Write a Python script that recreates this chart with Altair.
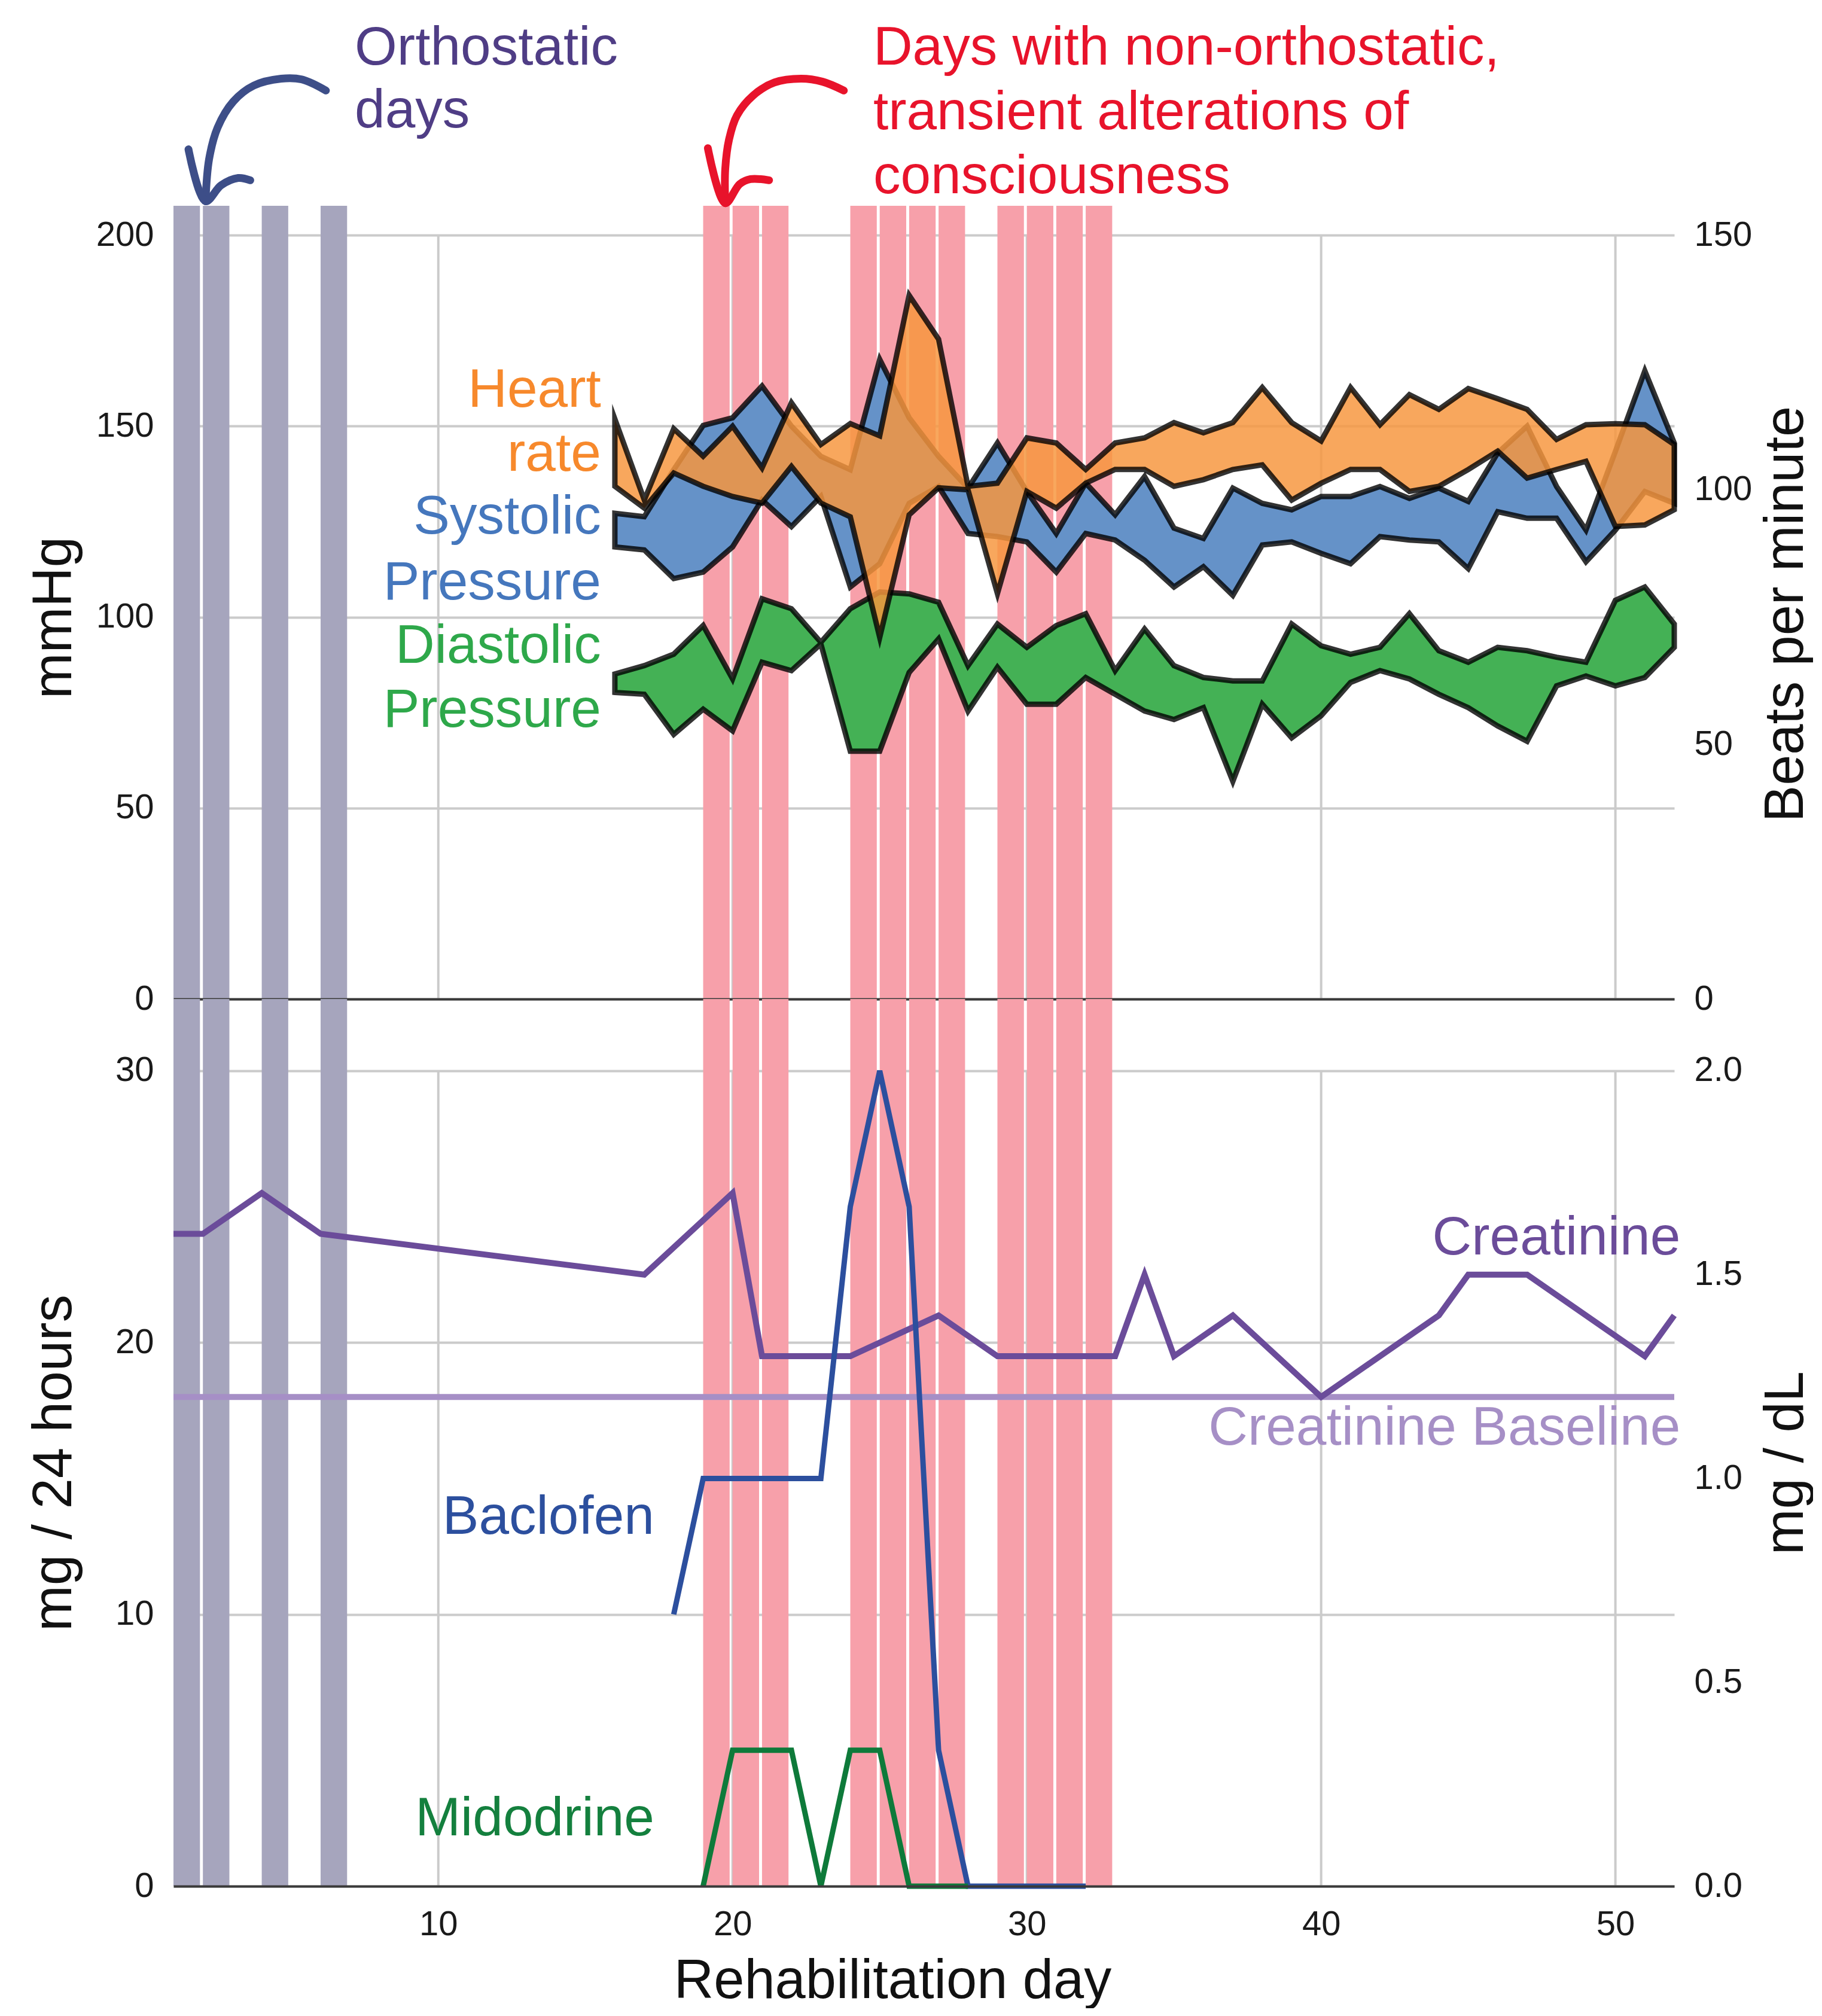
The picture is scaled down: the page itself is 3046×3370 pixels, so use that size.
import altair as alt
import pandas as pd

FONT = "Liberation Sans"

# ---------------- data ----------------
bp_days = list(range(16, 53))
# heart rate, beats per minute (right axis)
hr_max = [113.9, 98.0, 112.0, 106.6, 112.5, 104.3, 117.1, 108.9, 113.0, 110.6, 138.2, 129.6, 100.7,
          101.3, 110.2, 109.2, 104.0, 109.2, 110.2, 113.2, 111.2, 113.2, 120.1, 113.2, 109.6, 120.1,
          112.8, 118.7, 115.8, 119.9, 117.9, 115.8, 109.9, 112.8, 113.0, 112.8, 108.9]
hr_min = [100.7, 96.4, 103.3, 100.7, 98.7, 97.4, 104.6, 97.4, 94.7, 71.0, 95.1, 100.4, 100.0,
          79.6, 99.7, 96.4, 101.3, 104.0, 104.0, 100.7, 102.0, 104.0, 104.9, 98.0, 101.3, 104.0,
          104.0, 99.7, 100.7, 104.0, 107.6, 102.3, 104.0, 105.6, 92.8, 93.1, 96.1]
# systolic pressure, mmHg
sbp_max = [127.2, 126.3, 138.6, 150.2, 152.2, 160.5, 150.0, 142.1, 138.6, 167.5, 152.2, 142.1, 133.8,
           145.6, 132.9, 121.9, 135.1, 126.8, 136.8, 123.3, 120.6, 133.8, 129.8, 128.1, 131.6, 131.6,
           134.2, 131.1, 133.8, 130.3, 143.0, 150.0, 134.2, 122.8, 143.4, 164.5, 145.6]
sbp_min = [118.4, 117.6, 110.1, 111.8, 118.4, 130.7, 123.7, 131.6, 107.9, 114.0, 129.8, 134.2, 121.9,
           121.1, 119.7, 111.8, 121.9, 120.2, 114.9, 107.9, 113.2, 105.7, 118.9, 119.7, 116.7, 114.0,
           121.1, 120.2, 119.7, 112.7, 127.6, 125.9, 125.9, 114.5, 122.8, 132.9, 129.8]
# diastolic pressure, mmHg
dbp_max = [85.1, 87.3, 90.3, 97.8, 83.8, 104.8, 102.2, 93.4, 102.2, 106.6, 106.1, 103.9, 87.3,
           98.2, 92.1, 97.8, 100.9, 86.0, 96.9, 87.3, 84.2, 83.3, 83.3, 98.2, 92.5, 90.3,
           92.1, 100.9, 91.2, 88.2, 92.1, 91.2, 89.5, 88.2, 104.4, 107.9, 98.2]
dbp_min = [80.3, 79.8, 69.3, 75.9, 70.2, 88.2, 86.0, 93.0, 64.9, 64.9, 85.5, 94.3, 75.4,
           86.9, 77.2, 77.2, 84.2, 79.8, 75.4, 73.2, 76.3, 57.0, 77.2, 68.4, 74.2, 82.9,
           86.0, 83.8, 79.8, 76.3, 71.5, 67.5, 82.0, 84.6, 82.0, 84.2, 92.1]

creat_days = [1, 2, 4, 6, 17, 20, 21, 24, 27, 29, 33, 34, 35, 37, 40, 44, 45, 47, 51, 52]
creat_mgdl = [1.6, 1.6, 1.7, 1.6, 1.5, 1.7, 1.3, 1.3, 1.4, 1.3, 1.3, 1.5, 1.3, 1.4, 1.2, 1.4, 1.5, 1.5, 1.3, 1.4]
creat_baseline_mgdl = 1.2
baclofen_days = [18, 19, 23, 24, 25, 26, 27, 28, 32]
baclofen_mg = [10, 15, 15, 25, 30, 25, 5, 0, 0]
midodrine_days = [19, 20, 22, 23, 24, 25, 26, 28]
midodrine_mg = [0, 5, 5, 0, 5, 5, 0, 0]

orthostatic_days = [1, 2, 4, 6]
episode_days = [19, 20, 21, 24, 25, 26, 27, 29, 30, 31, 32]

x_ticks = [10, 20, 30, 40, 50]
mmhg_ticks = [0, 50, 100, 150, 200]
bpm_ticks = [0, 50, 100, 150]
mg_ticks = [0, 10, 20, 30]
mgdl_ticks = [0.0, 0.5, 1.0, 1.5, 2.0]

# ---------------- layout / style ----------------
W, H_TOP, H_BOT = 2509, 1647, 1483
TOP_MAX = 258.0          # mmHg at the top edge of the upper panel (room for notes)
BAR_TOP = 207.7          # shaded day bars reach a little above 200 mmHg
BOT_MAX = 32.64          # mg/24h at the top edge of the lower panel
BPM_PER_MMHG = 150 / 200
MGDL_PER_MG = 2.0 / 30

GREY, PINK = "#a6a5bd", "#f7a0aa"
ORANGE, BLUE, GREEN = "#f7963e", "#6592c8", "#44b155"
GRID = "#cbcbcb"
OUTLINE = dict(stroke="#000000", strokeOpacity=0.8, strokeWidth=9, strokeJoin="miter", strokeMiterLimit=6)

xs = alt.Scale(domain=[1, 52], nice=False, zero=False)
ys_top = alt.Scale(domain=[0, TOP_MAX], nice=False, zero=False)
ys_hr = alt.Scale(domain=[0, TOP_MAX * BPM_PER_MMHG], nice=False, zero=False)
ys_bot = alt.Scale(domain=[0, BOT_MAX], nice=False, zero=False)
ys_cr = alt.Scale(domain=[0, BOT_MAX * MGDL_PER_MG], nice=False, zero=False)

x_axis_top = alt.Axis(labels=False, ticks=False, grid=False, domain=True, domainColor="#3a3a3a",
                      domainWidth=4, title=None, zindex=2)
x_axis_bot = alt.Axis(values=x_ticks, ticks=False, grid=False, domain=True, domainColor="#3a3a3a",
                      domainWidth=4, labelFontSize=58, labelFont=FONT, labelColor="#1a1a1a",
                      labelPadding=35, title="Rehabilitation day", titleFontSize=92, titleFont=FONT,
                      titleFontWeight="normal", titleColor="#111111", titleX=1202, titleY=186,
                      titleBaseline="alphabetic", titleAlign="center", zindex=2)


def y_axis(orient, values, title, title_x, title_y, grid, fmt=None):
    kw = dict(orient=orient, values=values, grid=grid, gridColor=GRID, gridWidth=4, domain=False,
              ticks=False, labelFontSize=58, labelFont=FONT, labelColor="#1a1a1a", labelPadding=33,
              title=title, titleFontSize=92, titleFont=FONT, titleFontWeight="normal",
              titleColor="#111111", titleAngle=270, titleX=title_x, titleY=title_y,
              titleBaseline="alphabetic", titleAlign="center")
    if fmt:
        kw["format"] = fmt
    return alt.Axis(**kw)


bp = pd.DataFrame({"day": bp_days, "hr_max": hr_max, "hr_min": hr_min, "sbp_max": sbp_max,
                   "sbp_min": sbp_min, "dbp_max": dbp_max, "dbp_min": dbp_min})
bars_df = pd.DataFrame({"day": orthostatic_days + episode_days,
                        "kind": ["Orthostatic"] * len(orthostatic_days) + ["Episode"] * len(episode_days)})


def vgrid(xaxis, yscale, top):
    return alt.Chart(pd.DataFrame({"day": x_ticks})).transform_calculate(
        y0="0", y1=str(top)).mark_rule(color=GRID, strokeWidth=4).encode(
        x=alt.X("day:Q", scale=xs, axis=xaxis),
        y=alt.Y("y0:Q", scale=yscale, axis=None), y2="y1:Q")


def day_bars(xaxis, yscale, top, yaxis):
    return alt.Chart(bars_df).transform_calculate(
        x0="datum.day + 0.0", x1="datum.day + 0.9", y0="0", y1=str(top)).mark_rect().encode(
        x=alt.X("x0:Q", scale=xs, axis=xaxis), x2="x1:Q",
        y=alt.Y("y0:Q", scale=yscale, axis=yaxis), y2="y1:Q",
        color=alt.Color("kind:N", scale=alt.Scale(domain=["Orthostatic", "Episode"], range=[GREY, PINK]),
                        legend=None))


def band(lo, hi, fill, yscale, yaxis=None, opacity=1.0):
    return alt.Chart(bp).mark_area(fill=fill, fillOpacity=opacity, **OUTLINE).encode(
        x=alt.X("day:Q", scale=xs, axis=x_axis_top),
        y=alt.Y(f"{lo}:Q", scale=yscale, axis=yaxis), y2=f"{hi}:Q")


def texts(df, yscale, xaxis, align):
    return alt.Chart(df).mark_text(align=align, baseline="alphabetic", fontSize=91, font=FONT).encode(
        x=alt.X("day:Q", scale=xs, axis=xaxis), y=alt.Y("y:Q", scale=yscale, axis=None),
        text="text:N", color=alt.Color("color:N", scale=None))


# ---------------- annotations ----------------
series_labels = pd.DataFrame({
    "text": ["Heart", "rate", "Systolic", "Pressure", "Diastolic", "Pressure"],
    "day": [15.53] * 6,
    "y": [155.1, 138.3, 121.9, 104.7, 88.1, 71.2],
    "color": ["#f7892c", "#f7892c", "#4577bd", "#4577bd", "#2ea84a", "#2ea84a"]})
note_labels = pd.DataFrame({
    "text": ["Orthostatic", "days", "Days with non-orthostatic,", "transient alterations of", "consciousness"],
    "day": [7.16, 7.16, 24.78, 24.78, 24.78],
    "y": [244.7, 228.3, 244.7, 227.7, 211.0],
    "color": ["#4f3d85", "#4f3d85", "#e8132b", "#e8132b", "#e8132b"]})

arrow_pts = [
    # (part, day, mmHg)
    ("o_shaft", 6.18, 237.9), ("o_shaft", 5.36, 240.8), ("o_shaft", 4.66, 241.0), ("o_shaft", 3.73, 239.2),
    ("o_shaft", 3.03, 235.0), ("o_shaft", 2.50, 228.2), ("o_shaft", 2.21, 219.9), ("o_shaft", 2.09, 208.9),
    ("o_head", 1.51, 222.5), ("o_head", 2.09, 208.9), ("o_head", 2.62, 213.1), ("o_head", 3.20, 215.0),
    ("o_head", 3.61, 214.4),
    ("r_shaft", 23.78, 237.9), ("r_shaft", 23.06, 240.2), ("r_shaft", 22.33, 241.0), ("r_shaft", 21.42, 240.0),
    ("r_shaft", 20.70, 236.6), ("r_shaft", 20.15, 231.4), ("r_shaft", 19.88, 225.1), ("r_shaft", 19.75, 217.3),
    ("r_shaft", 19.75, 208.4),
    ("r_head", 19.16, 222.8), ("r_head", 19.75, 208.4), ("r_head", 20.24, 213.4), ("r_head", 20.61, 214.7),
    ("r_head", 21.24, 214.4),
]
arrows = pd.DataFrame(arrow_pts, columns=["part", "day", "y"])
arrows["i"] = range(len(arrows))
arrows["color"] = ["#3d4e88" if p.startswith("o") else "#e8132b" for p in arrows["part"]]

arrow_layer = alt.Chart(arrows).mark_line(strokeWidth=13, strokeCap="round", strokeJoin="round",
                                          interpolate="catmull-rom").encode(
    x=alt.X("day:Q", scale=xs, axis=x_axis_top), y=alt.Y("y:Q", scale=ys_top, axis=None),
    detail="part:N", order="i:Q", color=alt.Color("color:N", scale=None))

# ---------------- upper panel ----------------
top = alt.layer(
    vgrid(x_axis_top, ys_top, mmhg_ticks[-1]),
    day_bars(x_axis_top, ys_top, BAR_TOP, y_axis("left", mmhg_ticks, "mmHg", -172, 1009, True)),
    band("dbp_min", "dbp_max", GREEN, ys_top),
    band("sbp_min", "sbp_max", BLUE, ys_top),
    band("hr_min", "hr_max", ORANGE, ys_hr,
         y_axis("right", bpm_ticks, "Beats per minute", 214, 1003, False), opacity=0.84),
    texts(series_labels, ys_top, x_axis_top, "right"),
    texts(note_labels, ys_top, x_axis_top, "left"),
    arrow_layer,
).resolve_scale(y="independent").properties(width=W, height=H_TOP)

# ---------------- lower panel ----------------
creat = pd.DataFrame({"day": creat_days, "v": creat_mgdl})
bacl = pd.DataFrame({"day": baclofen_days, "v": baclofen_mg})
mido = pd.DataFrame({"day": midodrine_days, "v": midodrine_mg})


def drug_line(df, color, yscale, width, yaxis=None):
    return alt.Chart(df).mark_line(color=color, strokeWidth=width, strokeJoin="miter").encode(
        x=alt.X("day:Q", scale=xs, axis=x_axis_bot), y=alt.Y("v:Q", scale=yscale, axis=yaxis))


baseline_rule = alt.Chart(pd.DataFrame({"v": [creat_baseline_mgdl]})).mark_rule(
    color="#a68fc6", strokeWidth=10).encode(y=alt.Y("v:Q", scale=ys_cr, axis=None))

bottom_labels = pd.DataFrame({
    "text": ["Creatinine", "Creatinine Baseline", "Baclofen", "Midodrine"],
    "day": [52.21, 52.21, 17.34, 17.34],
    "y": [23.24, 16.24, 12.96, 1.88],
    "color": ["#6b4c9a", "#a68fc6", "#2c4f9e", "#14803e"]})

bottom = alt.layer(
    vgrid(x_axis_bot, ys_bot, mg_ticks[-1]),
    day_bars(x_axis_bot, ys_bot, BOT_MAX, y_axis("left", mg_ticks, "mg / 24 hours", -172, 775, True)),
    baseline_rule,
    drug_line(creat, "#6b4c9a", ys_cr, 10,
              y_axis("right", mgdl_ticks, "mg / dL", 214, 775, False, fmt=".1f")),
    drug_line(bacl, "#2c4f9e", ys_bot, 9),
    drug_line(mido, "#0e7a3a", ys_bot, 9),
    texts(bottom_labels, ys_bot, x_axis_bot, "right"),
).resolve_scale(y="independent").properties(width=W, height=H_BOT)

chart = alt.vconcat(top, bottom, spacing=0, bounds="flush").configure_view(stroke=None).properties(
    padding={"left": 36, "top": 15, "right": 0, "bottom": 0}, background="white")

chart.save("out.html", embed_options={"renderer": "svg", "actions": False})
